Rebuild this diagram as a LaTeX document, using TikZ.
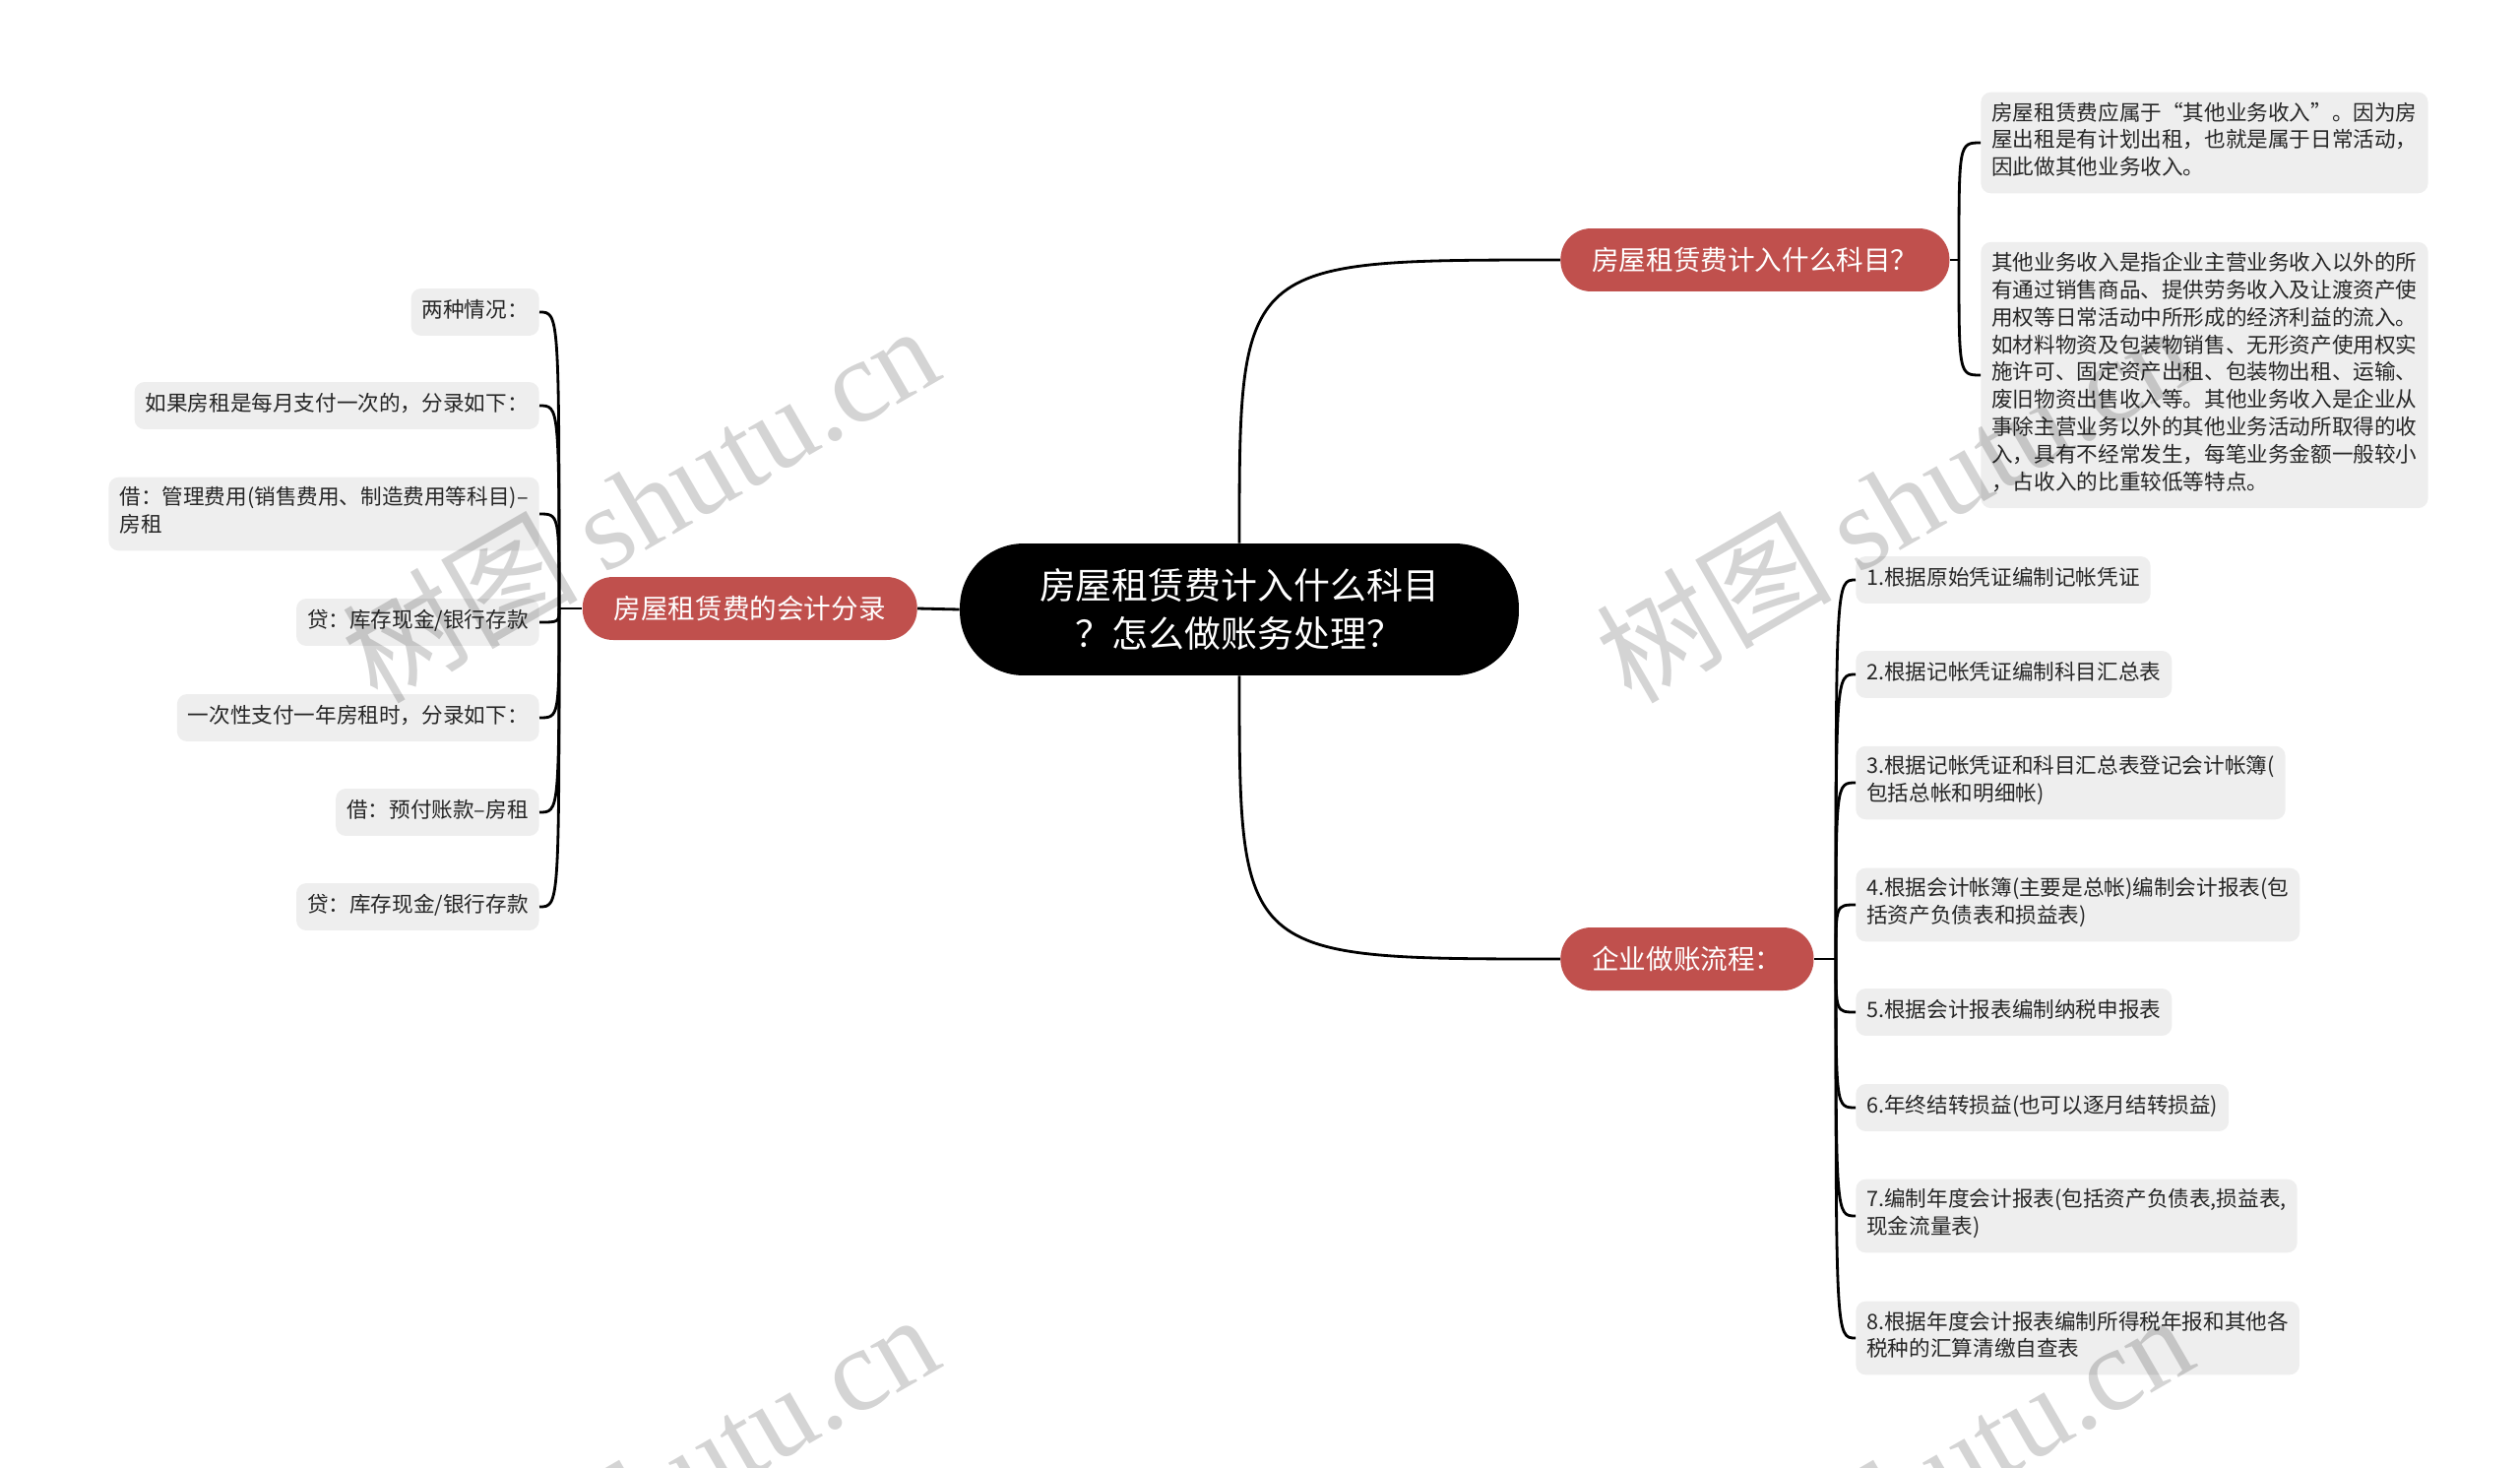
\documentclass[tikz,border=0pt]{standalone}
\usepackage{fontspec}
\setmainfont{Noto Sans CJK SC}
\newfontfamily\markfont{Liberation Serif}
\definecolor{topicred}{HTML}{C0504D}
\definecolor{leafgray}{HTML}{EEEEEE}
\tikzset{
  hub/.style={
    fill=black,
    text=white,
    rounded corners=1.3cm,
    minimum width=11.36cm,
    minimum height=2.68cm,
    align=center,
    font=\fontsize{21}{28}\selectfont
  },
  topic/.style={
    fill=topicred,
    text=white,
    rounded corners=0.62cm,
    minimum height=1.28cm,
    inner xsep=0.64cm,
    font=\fontsize{15.7}{19}\selectfont
  },
  leaf/.style={
    fill=leafgray,
    text=black!85,
    rounded corners=0.2cm,
    inner xsep=0.22cm,
    inner ysep=0.2cm,
    align=left,
    font=\fontsize{12.3}{15.9}\selectfont,
    execute at begin node=\strut,
    execute at end node=\strut
  },
  link/.style={line width=1.6pt},
  wmark/.style={
    text=black,
    opacity=0.17,
    rotate=30,
    font=\fontsize{68}{68}\selectfont
  }
}
\begin{document}
\begin{tikzpicture}[x=0.02cm,y=-0.02cm]
    \useasboundingbox (0,0) rectangle (2560,1491);
    % centre and main topics
    \node[hub] (root) at (1259,619) {房屋租赁费计入什么科目\\？怎么做账务处理？};
    \node[topic,anchor=west] (kemu) at (1585,264) {房屋租赁费计入什么科目？};
    \node[topic,anchor=west] (liucheng) at (1585,974) {企业做账流程：};
    \node[topic,anchor=east] (fenlu) at (932,618) {房屋租赁费的会计分录};
    \coordinate (kfork) at (1990,264);
    \coordinate (lfork) at (1865,974);
    \coordinate (ffork) at (568,618);

    % which account
    \node[leaf,anchor=west] (k1) at (2012,145) {房屋租赁费应属于“其他业务收入”。因为房\\屋出租是有计划出租，也就是属于日常活动，\\因此做其他业务收入。};
    \node[leaf,anchor=west] (k2) at (2012,381) {其他业务收入是指企业主营业务收入以外的所\\有通过销售商品、提供劳务收入及让渡资产使\\用权等日常活动中所形成的经济利益的流入。\\如材料物资及包装物销售、无形资产使用权实\\施许可、固定资产出租、包装物出租、运输、\\废旧物资出售收入等。其他业务收入是企业从\\事除主营业务以外的其他业务活动所取得的收\\入，具有不经常发生，每笔业务金额一般较小\\，占收入的比重较低等特点。};

    % bookkeeping steps
    \node[leaf,anchor=west] (l1) at (1885,589) {1.根据原始凭证编制记帐凭证};
    \node[leaf,anchor=west] (l2) at (1885,685) {2.根据记帐凭证编制科目汇总表};
    \node[leaf,anchor=west] (l3) at (1885,795) {3.根据记帐凭证和科目汇总表登记会计帐簿(\\包括总帐和明细帐)};
    \node[leaf,anchor=west] (l4) at (1885,919) {4.根据会计帐簿(主要是总帐)编制会计报表(包\\括资产负债表和损益表)};
    \node[leaf,anchor=west] (l5) at (1885,1028) {5.根据会计报表编制纳税申报表};
    \node[leaf,anchor=west] (l6) at (1885,1125) {6.年终结转损益(也可以逐月结转损益)};
    \node[leaf,anchor=west] (l7) at (1885,1235) {7.编制年度会计报表(包括资产负债表,损益表,\\现金流量表)};
    \node[leaf,anchor=west] (l8) at (1885,1359) {8.根据年度会计报表编制所得税年报和其他各\\税种的汇算清缴自查表};

    % journal entries
    \node[leaf,anchor=east] (f1) at (548,317) {两种情况：};
    \node[leaf,anchor=east] (f2) at (548,412) {如果房租是每月支付一次的，分录如下：};
    \node[leaf,anchor=east] (f3) at (548,522) {借：管理费用(销售费用、制造费用等科目)–\\房租};
    \node[leaf,anchor=east] (f4) at (548,632) {贷：库存现金/银行存款};
    \node[leaf,anchor=east] (f5) at (548,729) {一次性支付一年房租时，分录如下：};
    \node[leaf,anchor=east] (f6) at (548,825) {借：预付账款–房租};
    \node[leaf,anchor=east] (f7) at (548,921) {贷：库存现金/银行存款};

    % connectors
    \draw[link] (root.west) -- (fenlu.east);
    \draw[link] (root.north) .. controls (root.north |- kemu.west) .. (kemu.west);
    \draw[link] (root.south) .. controls (root.south |- liucheng.west) .. (liucheng.west);
    \draw[link] (kemu.east) -- (kfork);
    \draw[link] (liucheng.east) -- (lfork);
    \draw[link] (fenlu.west) -- (ffork);
    \foreach \n in {k1,k2}
        \draw[link] (kfork) .. controls (kfork |- \n.west) .. (\n.west);
    \foreach \n in {l1,l2,l3,l4,l5,l6,l7,l8}
        \draw[link] (lfork) .. controls (lfork |- \n.west) .. (\n.west);
    \foreach \n in {f1,f2,f3,f4,f5,f6,f7}
        \draw[link] (ffork) .. controls (ffork |- \n.east) .. (\n.east);

    % watermarks
    \foreach \x/\y [count=\i] in {650/510,1924/510,650/1514,1924/1514}
        \node[wmark] (mark\i) at (\x,\y) {树图 {\markfont shutu.cn}};
\end{tikzpicture}
\end{document}
